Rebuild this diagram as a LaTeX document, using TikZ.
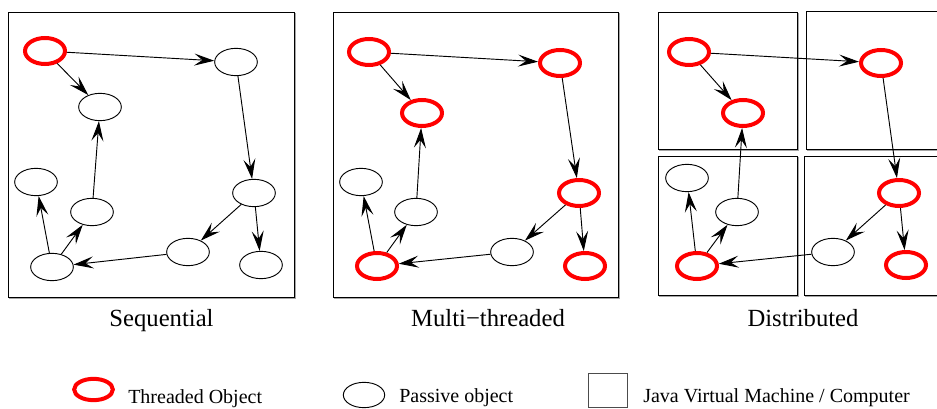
\documentclass[tikz,border=0pt]{standalone}
\usepackage{fontspec}
\setmainfont{Liberation Serif}
\usetikzlibrary{shapes.geometric,arrows.meta}
\begin{document}
\begin{tikzpicture}[x=0.75pt,y=-0.75pt,
 pas/.style={ellipse,draw,line width=0.7pt,minimum width=32pt,minimum height=20.5pt,inner sep=0pt},
 thr/.style={ellipse,draw=red,line width=3pt,minimum width=30pt,minimum height=19.5pt,inner sep=0pt},
 lnk/.style={-{Stealth[length=15pt,width=9pt,inset=6pt]},line width=0.7pt},
 frame/.style={draw,line width=0.65pt},
 shadow/.style={draw=gray!70,line width=0.7pt},
 captxt/.style={font=\fontsize{18.5}{22}\selectfont,anchor=base,inner sep=0pt},
 legtxt/.style={font=\fontsize{15}{18}\selectfont,anchor=base west,inner sep=0pt}]
\useasboundingbox (0,0) rectangle (937,409);

% frames
\draw[shadow] (9,298) -- (295,298) -- (295,13);
\draw[frame] (8,12) rectangle (294,297);
\draw[shadow] (334,298) -- (619,298) -- (619,13);
\draw[frame] (333,12) rectangle (618,297);
\draw[shadow] (659,150) -- (798,150) -- (798,13);
\draw[frame] (658,12) rectangle (797,149);
\draw[shadow] (807,150) -- (937,150);
\draw[frame] (937,11) -- (806,11) -- (806,149) -- (937,149);
\draw[shadow] (659,296) -- (798,296) -- (798,157);
\draw[frame] (658,156) rectangle (797,295);
\draw[shadow] (805,296) -- (937,296);
\draw[frame] (937,156) -- (804,156) -- (804,295) -- (937,295);

% panel 1
\node[thr] (A1) at (45,51) {};
\node[pas] (B1) at (236,62) {};
\node[pas] (C1) at (100,107) {};
\node[pas] (D1) at (36,182) {};
\node[pas] (E1) at (92,212) {};
\node[pas] (F1) at (52,267) {};
\node[pas] (G1) at (188,252) {};
\node[pas] (H1) at (254,193) {};
\node[pas] (I1) at (261,265) {};

% panel 2
\node[thr] (A2) at (369,52) {};
\node[thr] (B2) at (560,63) {};
\node[thr] (C2) at (422,113) {};
\node[pas] (D2) at (361,182) {};
\node[pas] (E2) at (416,212) {};
\node[thr] (F2) at (377,266) {};
\node[pas] (G2) at (512,252) {};
\node[thr] (H2) at (579,193) {};
\node[thr] (I2) at (585,266) {};

% panel 3
\node[thr] (A3) at (689,52) {};
\node[thr] (B3) at (881,63) {};
\node[thr] (C3) at (743,113) {};
\node[pas] (D3) at (687,178) {};
\node[pas] (E3) at (737,212) {};
\node[thr] (F3) at (697,266) {};
\node[pas] (G3) at (833,252) {};
\node[thr] (H3) at (899,193) {};
\node[thr] (I3) at (906,265) {};

\foreach \p in {1,2,3}{
  \draw[lnk] (A\p) -- (B\p);
  \draw[lnk] (A\p) -- (C\p);
  \draw[lnk] (B\p) -- (H\p);
  \draw[lnk] (H\p) -- (G\p);
  \draw[lnk] (H\p) -- (I\p);
  \draw[lnk] (G\p) -- (F\p);
  \draw[lnk] (F\p) -- (D\p);
  \draw[lnk] (F\p) -- (E\p);
  \draw[lnk] (E\p) -- (C\p);
}

% captions
\node[captxt] (c1) at (161.5,326) {Sequential};
\node[captxt] (c2) at (488,326) {Multi−threaded};
\node[captxt] (c3) at (803,326) {Distributed};

% legend
\node[thr,minimum width=29pt,minimum height=16pt] (lt) at (93.5,389.5) {};
\node[legtxt] (ltt) at (128,403) {Threaded Object};
\node[pas,minimum width=31pt,minimum height=19pt] (lp) at (364,395) {};
\node[legtxt] (lpt) at (399,402) {Passive object};
\node[draw=gray!60!black,line width=0.8pt,minimum width=29pt,minimum height=25.5pt,inner sep=0pt] (lj) at (608,390.5) {};
\node[legtxt] (ljt) at (643,402) {Java Virtual Machine / Computer};
\end{tikzpicture}
\end{document}
